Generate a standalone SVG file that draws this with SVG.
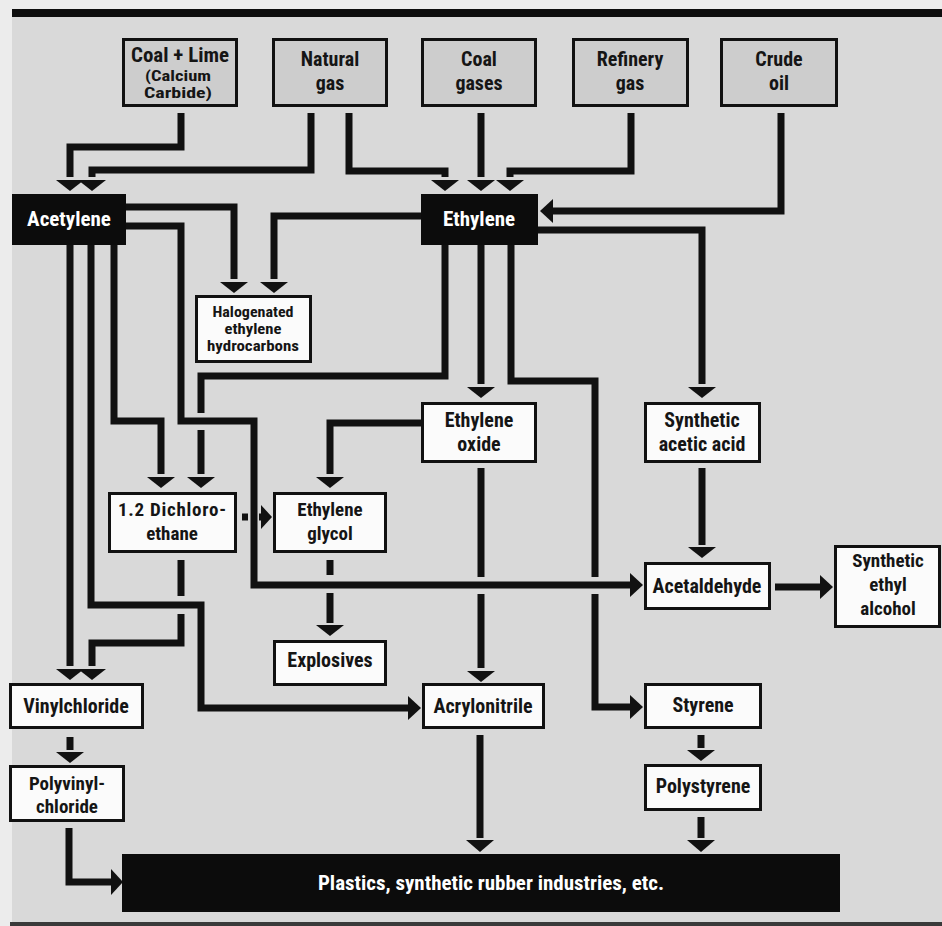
<svg xmlns="http://www.w3.org/2000/svg" width="942" height="926" viewBox="0 0 942 926">
<defs>
<style>
.bg{fill:#d9d9d9}
.src rect{fill:#cdcdcd;stroke:#111;stroke-width:3}
.wb rect{fill:#fbfbfb;stroke:#111;stroke-width:3}
.bb rect{fill:#0c0c0c;stroke:#0c0c0c;stroke-width:2}
text{font-family:"Liberation Sans Narrow","Arial Narrow","Roboto Condensed","DejaVu Sans Condensed","Liberation Sans",sans-serif;font-stretch:condensed;font-weight:bold;text-anchor:middle;fill:#151515}
.bb text{fill:#ffffff}
.f21{font-size:21px}
.f20{font-size:20px}
.f19{font-size:19px}
.f14{font-size:14px}
#connectors path{fill:none;stroke:#111;stroke-width:7;stroke-linecap:butt;stroke-linejoin:miter}
#connectors polygon{fill:#111}
</style>
</defs>
<rect x="0" y="0" width="942" height="926" fill="#ececec"/>
<rect class="bg" x="12" y="17" width="930" height="905"/>
<rect x="12" y="9" width="930" height="8" fill="#0e0e0e"/>
<rect x="10" y="922" width="932" height="4" fill="#3a3a3a"/>

<g id="connectors">
<path d="M181,113 V147 H70 V177"/>
<polygon points="56,180 84,180 70,191"/>
<path d="M311,113 V170 H92 V177"/>
<polygon points="78,180 106,180 92,191"/>
<path d="M349,113 V171 H445 V177"/>
<polygon points="431,180 459,180 445,191"/>
<path d="M481,113 V177"/>
<polygon points="467,180 495,180 481,191"/>
<path d="M631,113 V171 H510 V177"/>
<polygon points="496,180 524,180 510,191"/>
<path d="M781,113 V211 H552"/>
<polygon points="553,199 553,223 540,211"/>
<path d="M126,207 H234 V279"/>
<polygon points="220,282 248,282 234,293"/>
<path d="M421,216 H274 V279"/>
<polygon points="260,282 288,282 274,293"/>
<path d="M70,244 V666"/>
<polygon points="56,669 84,669 70,680"/>
<path d="M91,244 V605 H201 V708 H408"/>
<polygon points="408,696 408,720 421,708"/>
<path d="M114,244 V421 H161 V474"/>
<polygon points="147,477 175,477 161,488"/>
<path d="M181,560 V596"/>
<path d="M181,614 V643 H92 V666"/>
<polygon points="78,669 106,669 92,680"/>
<path d="M126,226 H181 V421 H254 V585 H630"/>
<polygon points="630,573 630,597 643,585"/>
<path d="M445,244 V376 H201 V413"/>
<path d="M201,430 V474"/>
<polygon points="187,477 215,477 201,488"/>
<path d="M481,244 V384"/>
<polygon points="467,387 495,387 481,398"/>
<path d="M511,244 V381 H595 V577"/>
<path d="M595,594 V707 H630"/>
<polygon points="630,695 630,719 643,707"/>
<path d="M538,230 H702 V384"/>
<polygon points="688,387 716,387 702,398"/>
<path d="M421,423 H330 V474"/>
<polygon points="316,477 344,477 330,488"/>
<path d="M481,468 V577"/>
<path d="M481,594 V668"/>
<polygon points="467,671 495,671 481,682"/>
<path d="M242,517 H248"/>
<path d="M259,517 H262"/>
<polygon points="261,505 261,529 272,517"/>
<path d="M330,560 V575"/>
<path d="M330,593 V623"/>
<polygon points="316,625 344,625 330,636"/>
<path d="M702,468 V545"/>
<polygon points="688,547 716,547 702,558"/>
<path d="M775,587 H821"/>
<polygon points="820,575 820,599 833,587"/>
<path d="M70,737 V750"/>
<polygon points="56,752 84,752 70,763"/>
<path d="M69,828 V882 H112"/>
<polygon points="111,869 111,895 123,882"/>
<path d="M480,735 V838"/>
<polygon points="466,840 494,840 480,852"/>
<path d="M701,735 V748"/>
<polygon points="687,750 715,750 701,761"/>
<path d="M701,817 V838"/>
<polygon points="687,840 715,840 701,852"/>
</g>

<g id="coal_lime" class="src"><rect x="123.5" y="39.5" width="113" height="66"/>
<text class="f20" x="180" y="62" textLength="98" lengthAdjust="spacingAndGlyphs">Coal + Lime</text>
<text class="f14" x="178" y="81" textLength="66" lengthAdjust="spacingAndGlyphs">(Calcium</text>
<text class="f14" x="178" y="98" textLength="68" lengthAdjust="spacingAndGlyphs">Carbide)</text></g>
<g id="natural_gas" class="src"><rect x="273.5" y="39.5" width="113" height="66"/>
<text class="f20" x="330" y="66">Natural</text>
<text class="f20" x="330" y="90">gas</text></g>
<g id="coal_gases" class="src"><rect x="422.5" y="39.5" width="113" height="66"/>
<text class="f20" x="479" y="66">Coal</text>
<text class="f20" x="479" y="90">gases</text></g>
<g id="refinery_gas" class="src"><rect x="573.5" y="39.5" width="114" height="66"/>
<text class="f20" x="630" y="66">Refinery</text>
<text class="f20" x="630" y="90">gas</text></g>
<g id="crude_oil" class="src"><rect x="721.5" y="39.5" width="115" height="66"/>
<text class="f20" x="779" y="66">Crude</text>
<text class="f20" x="779" y="90">oil</text></g>

<g id="acetylene" class="bb"><rect x="13" y="195" width="112" height="49"/>
<text class="f21" x="69" y="226">Acetylene</text></g>
<g id="ethylene" class="bb"><rect x="422" y="195" width="115" height="49"/>
<text class="f21" x="479" y="226">Ethylene</text></g>

<g id="halogenated" class="wb"><rect x="196.5" y="296.5" width="114" height="65"/>
<text class="f14" x="253" y="317" textLength="81" lengthAdjust="spacingAndGlyphs">Halogenated</text>
<text class="f14" x="253" y="334" textLength="57" lengthAdjust="spacingAndGlyphs">ethylene</text>
<text class="f14" x="253" y="351" textLength="92" lengthAdjust="spacingAndGlyphs">hydrocarbons</text></g>
<g id="ethylene_oxide" class="wb"><rect x="422.5" y="403.5" width="113" height="58"/>
<text class="f20" x="479" y="427">Ethylene</text>
<text class="f20" x="479" y="451">oxide</text></g>
<g id="acetic_acid" class="wb"><rect x="645.5" y="403.5" width="114" height="58"/>
<text class="f20" x="702" y="427">Synthetic</text>
<text class="f20" x="702" y="451">acetic acid</text></g>
<g id="dichloroethane" class="wb"><rect x="109.5" y="493.5" width="126" height="58"/>
<text class="f19" x="172" y="516" textLength="108" lengthAdjust="spacing">1.2 Dichloro-</text>
<text class="f19" x="172" y="540">ethane</text></g>
<g id="ethylene_glycol" class="wb"><rect x="274.5" y="493.5" width="111" height="58"/>
<text class="f19" x="330" y="516">Ethylene</text>
<text class="f19" x="330" y="540">glycol</text></g>
<g id="acetaldehyde" class="wb"><rect x="645.5" y="563.5" width="124" height="45"/>
<text class="f20" x="707" y="593">Acetaldehyde</text></g>
<g id="ethyl_alcohol" class="wb"><rect x="835.5" y="546.5" width="104" height="80"/>
<text class="f19" x="888" y="567">Synthetic</text>
<text class="f19" x="888" y="591">ethyl</text>
<text class="f19" x="888" y="615">alcohol</text></g>
<g id="explosives" class="wb"><rect x="274.5" y="641.5" width="111" height="43"/>
<text class="f20" x="330" y="667">Explosives</text></g>
<g id="vinylchloride" class="wb"><rect x="10.5" y="684.5" width="132" height="43"/>
<text class="f20" x="76" y="713">Vinylchloride</text></g>
<g id="acrylonitrile" class="wb"><rect x="423.5" y="684.5" width="120" height="43"/>
<text class="f20" x="483" y="713">Acrylonitrile</text></g>
<g id="styrene" class="wb"><rect x="645.5" y="684.5" width="115" height="43"/>
<text class="f20" x="703" y="712">Styrene</text></g>
<g id="polyvinylchloride" class="wb"><rect x="10.5" y="766.5" width="113" height="54"/>
<text class="f19" x="67" y="790">Polyvinyl-</text>
<text class="f19" x="67" y="813">chloride</text></g>
<g id="polystyrene" class="wb"><rect x="645.5" y="765.5" width="115" height="44"/>
<text class="f20" x="703" y="793">Polystyrene</text></g>
<g id="plastics" class="bb"><rect x="123" y="855" width="716" height="56"/>
<text class="f21" x="491" y="890">Plastics, synthetic rubber industries, etc.</text></g>
</svg>
